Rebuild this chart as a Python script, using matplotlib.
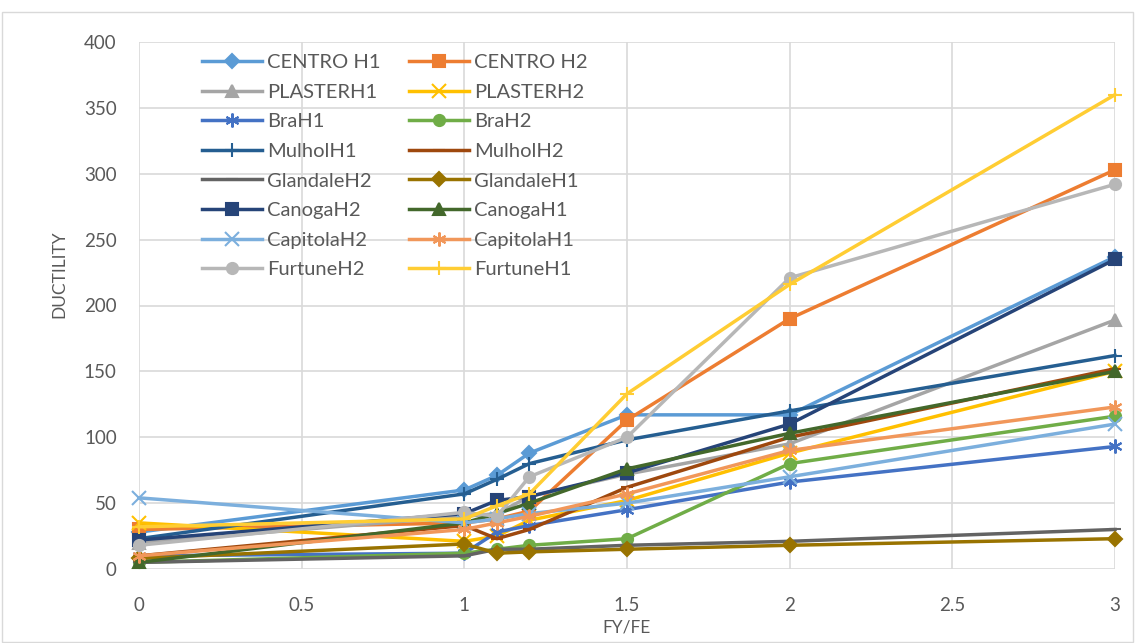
import matplotlib.pyplot as plt
from matplotlib.patches import Rectangle

plt.rcParams['font.family'] = ['Lato', 'DejaVu Sans']

# FY/FE ratios
x = [0, 1, 1.1, 1.2, 1.5, 2, 3]

names = ['CENTRO H1', 'CENTRO H2', 'PLASTERH1', 'PLASTERH2', 'BraH1', 'BraH2',
         'MulholH1', 'MulholH2', 'GlandaleH2', 'GlandaleH1', 'CanogaH2', 'CanogaH1',
         'CapitolaH2', 'CapitolaH1', 'FurtuneH2', 'FurtuneH1']

centro_h1 = [28, 60, 71, 88, 117, 117, 237]
centro_h2 = [30, 35, 38, 44, 113, 190, 303]
plaster_h1 = [20, 40, 42, 55, 72, 95, 189]
plaster_h2 = [35, 21, 25, 37, 52, 88, 150]
bra_h1 = [10, 12, 28, 33, 45, 66, 93]
bra_h2 = [5, 12, 15, 18, 23, 80, 116]
mulhol_h1 = [23, 57, 68, 80, 98, 120, 162]
mulhol_h2 = [10, 33, 23, 30, 62, 100, 152]
glandale_h2 = [5, 10, 15, 15, 18, 21, 30]
glandale_h1 = [8, 19, 12, 13, 15, 18, 23]
canoga_h2 = [22, 42, 52, 55, 73, 110, 235]
canoga_h1 = [5, 35, 42, 50, 76, 103, 150]
capitola_h2 = [54, 35, 38, 42, 50, 70, 110]
capitola_h1 = [10, 30, 35, 40, 57, 90, 123]
furtune_h2 = [18, 43, 40, 70, 100, 221, 292]
furtune_h1 = [32, 38, 48, 57, 133, 216, 360]

series = [centro_h1, centro_h2, plaster_h1, plaster_h2, bra_h1, bra_h2,
          mulhol_h1, mulhol_h2, glandale_h2, glandale_h1, canoga_h2, canoga_h1,
          capitola_h2, capitola_h1, furtune_h2, furtune_h1]

colors = ['#5B9BD5', '#ED7D31', '#A5A5A5', '#FFC000', '#4472C4', '#70AD47',
          '#255E91', '#9E480E', '#636363', '#997300', '#264478', '#43682B',
          '#7CAFDD', '#F1975A', '#B7B7B7', '#FFCD33']
asterisk = (6, 2, 0)
markers = ['D', 's', '^', 'x', asterisk, 'o', '+', '_', '_', 'D', 's', '^',
           'x', asterisk, 'o', '+']

fig = plt.figure(figsize=(11.36, 6.43), dpi=100)
ax = fig.add_axes([139 / 1136, 1 - 569 / 643, (1115 - 139) / 1136, (569 - 42) / 643])

# chart border
fig.patches.append(Rectangle((0.002, 0.002), 0.995, 0.98, transform=fig.transFigure,
                             fill=False, edgecolor='#D9D9D9', linewidth=1))

lines = []
for i, (name, y) in enumerate(zip(names, series)):
    m = markers[i]
    ms = 8
    if m in ('x', '+') or m == asterisk:
        ms = 10
    if m == 'D':
        ms = 7
    ln, = ax.plot(x, y, color=colors[i], linewidth=2.5, marker=m, markersize=ms,
                  markeredgewidth=1.5, markeredgecolor=colors[i], label=name,
                  clip_on=False, zorder=3 + i)
    lines.append(ln)

ax.set_xlim(0, 3)
ax.set_ylim(0, 400)
ax.set_xticks([0, 0.5, 1, 1.5, 2, 2.5, 3])
ax.set_xticklabels(['0', '0.5', '1', '1.5', '2', '2.5', '3'])
ax.set_yticks(range(0, 401, 50))
ax.grid(True, color='#D9D9D9', linewidth=1.2)
ax.set_axisbelow(True)
for s in ax.spines.values():
    s.set_visible(False)
ax.tick_params(length=0, labelsize=13.5, colors='#595959')
ax.tick_params(axis='x', pad=20)
ax.tick_params(axis='y', pad=16)

ax.set_xlabel('FY/FE', fontsize=12.5, color='#595959')
ax.set_ylabel('DUCTILITY', fontsize=12.5, color='#595959')
ax.xaxis.set_label_coords(0.5, -0.095)
ax.yaxis.set_label_coords(-0.073, 0.56)

# Excel fills the legend row by row
order = list(range(0, 16, 2)) + list(range(1, 16, 2))
ax.legend([lines[k] for k in order], [names[k] for k in order],
          loc='upper left', bbox_to_anchor=(0.052, 1.0), ncol=2, frameon=False,
          fontsize=14.5, labelcolor='#595959', handlelength=3.0,
          columnspacing=1.4, labelspacing=0.62, handletextpad=0.25,
          borderaxespad=0.2)

fig.savefig('out.png', dpi=100)
